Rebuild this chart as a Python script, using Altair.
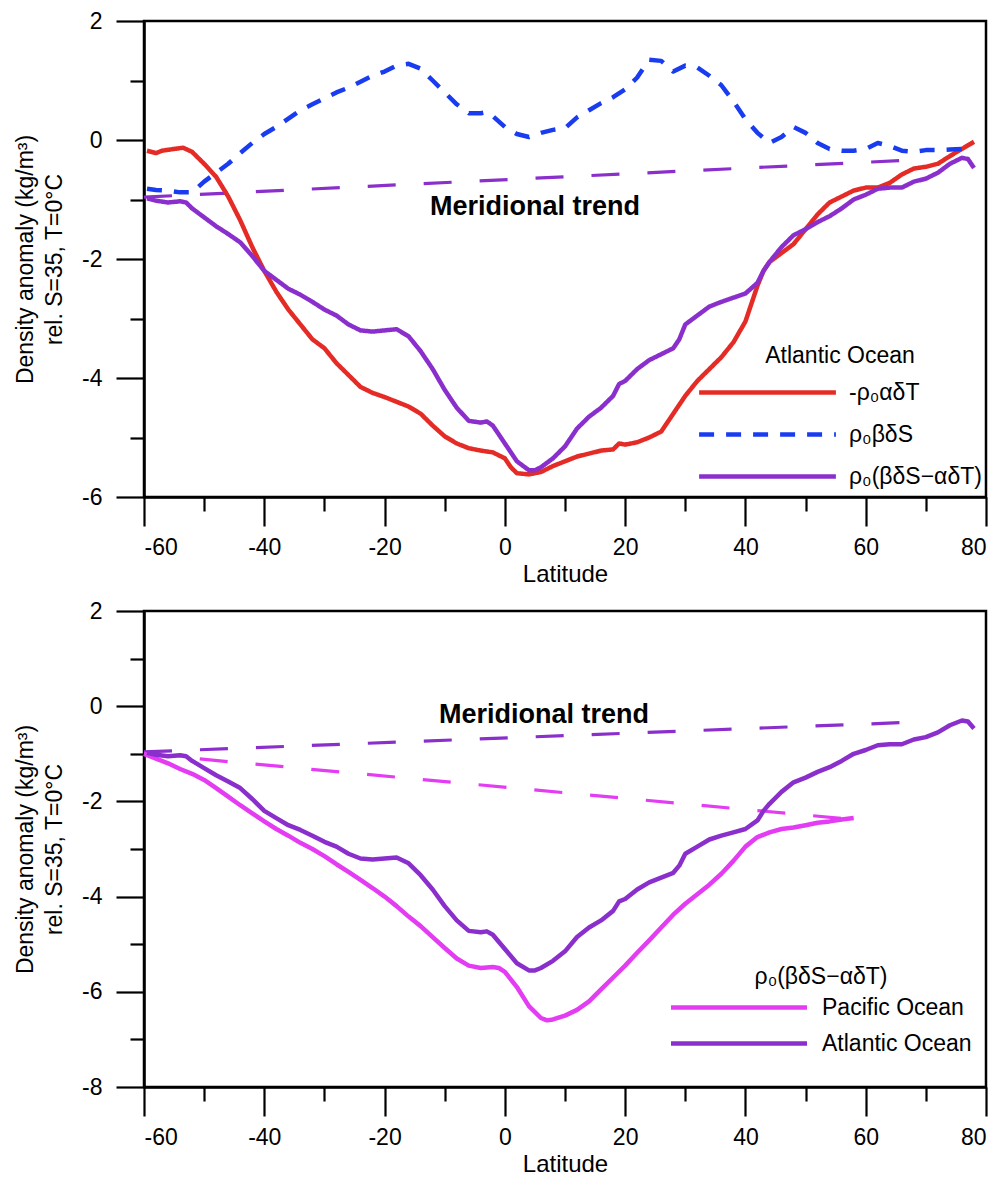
import altair as alt
import pandas as pd

# ---------------- data ----------------
# Top panel: Atlantic Ocean components
lat_temp = [-59.5, -58, -57, -55, -53.5, -52, -50, -48, -46, -44, -42, -40, -38, -36, -34, -32, -30, -28,
            -26, -24, -22, -20, -18, -16, -14, -12, -10, -8, -6, -4, -2, 0, 1, 2, 4, 6, 8, 10, 12, 14,
            16, 18, 19, 20, 22, 24, 26, 28, 30, 32, 34, 36, 38, 40, 41, 42, 43, 44, 46, 48, 50, 52, 54,
            56, 58, 60, 62, 64, 66, 68, 70, 72, 74, 76, 78]
val_temp = [-0.18, -0.22, -0.18, -0.15, -0.13, -0.2, -0.4, -0.62, -0.95, -1.35, -1.8, -2.2, -2.55, -2.85,
            -3.1, -3.35, -3.5, -3.75, -3.95, -4.15, -4.25, -4.32, -4.4, -4.48, -4.6, -4.8, -4.98, -5.1,
            -5.18, -5.22, -5.25, -5.35, -5.5, -5.6, -5.62, -5.58, -5.48, -5.4, -5.32, -5.27, -5.22, -5.2,
            -5.1, -5.12, -5.08, -5.0, -4.9, -4.6, -4.3, -4.05, -3.85, -3.65, -3.4, -3.05, -2.75, -2.45,
            -2.2, -2.05, -1.9, -1.75, -1.5, -1.25, -1.05, -0.95, -0.85, -0.8, -0.8, -0.72, -0.58, -0.48,
            -0.45, -0.4, -0.27, -0.15, -0.03]

lat_salt = [-59.5, -58, -56, -54, -52, -50, -48, -46, -44, -42, -40, -38, -36, -34, -32, -30, -28, -26,
            -24, -22, -20, -18, -16, -14, -12, -10, -8, -6, -4, -3, -2, 0, 2, 4, 6, 8, 10, 12, 14, 16,
            18, 20, 22, 24, 26, 28, 30, 32, 34, 36, 38, 40, 42, 44, 46, 48, 50, 52, 54, 56, 58, 60, 62,
            64, 66, 68, 70, 72, 74, 76, 77]
val_salt = [-0.82, -0.84, -0.85, -0.88, -0.88, -0.7, -0.55, -0.4, -0.22, -0.05, 0.1, 0.22, 0.36, 0.5,
            0.6, 0.7, 0.8, 0.88, 0.98, 1.08, 1.15, 1.25, 1.28, 1.2, 1.0, 0.8, 0.6, 0.45, 0.45, 0.47, 0.4,
            0.22, 0.1, 0.05, 0.12, 0.17, 0.2, 0.38, 0.5, 0.62, 0.72, 0.85, 1.05, 1.35, 1.33, 1.15, 1.25,
            1.22, 1.08, 0.92, 0.65, 0.35, 0.12, -0.05, 0.05, 0.22, 0.12, -0.05, -0.15, -0.18, -0.18,
            -0.15, -0.05, -0.1, -0.18, -0.2, -0.17, -0.17, -0.16, -0.15, -0.2]

# Atlantic total density anomaly (used in both panels)
lat_atl = [-59.5, -58, -56, -54, -53, -52, -50, -48, -46, -44, -42, -40, -38, -36, -34, -32, -30, -28,
           -26, -24, -22, -20, -18, -16, -14, -12, -10, -8, -6, -4, -3, -2, 0, 2, 4, 5, 6, 8, 10, 12,
           14, 16, 18, 19, 20, 22, 24, 26, 28, 29, 30, 32, 34, 36, 38, 40, 42, 43, 44, 46, 48, 50, 52,
           54, 56, 58, 60, 62, 64, 66, 68, 70, 72, 74, 76, 77, 78]
val_atl = [-0.98, -1.02, -1.05, -1.03, -1.05, -1.15, -1.3, -1.45, -1.58, -1.72, -1.95, -2.2, -2.35,
           -2.5, -2.6, -2.72, -2.85, -2.95, -3.1, -3.2, -3.22, -3.2, -3.18, -3.3, -3.55, -3.85, -4.2,
           -4.5, -4.72, -4.75, -4.73, -4.8, -5.1, -5.4, -5.55, -5.55, -5.5, -5.35, -5.15, -4.85, -4.65,
           -4.5, -4.3, -4.1, -4.05, -3.85, -3.7, -3.6, -3.5, -3.35, -3.1, -2.95, -2.8, -2.72, -2.65,
           -2.58, -2.4, -2.2, -2.05, -1.8, -1.6, -1.5, -1.38, -1.28, -1.15, -1.0, -0.92, -0.82, -0.8,
           -0.8, -0.7, -0.65, -0.55, -0.4, -0.3, -0.32, -0.47]

# Bottom panel: Pacific total density anomaly
lat_pac = [-60, -58, -56, -54, -52, -50, -48, -46, -44, -42, -40, -38, -36, -34, -32, -30, -28, -26,
           -24, -22, -20, -18, -16, -14, -12, -10, -8, -6, -4, -2, -1, 0, 2, 4, 6, 7, 8, 10, 12, 14, 16,
           18, 20, 22, 24, 26, 28, 30, 32, 34, 36, 38, 40, 42, 44, 46, 48, 50, 52, 54, 56, 58]
val_pac = [-1.0, -1.1, -1.2, -1.32, -1.42, -1.55, -1.72, -1.9, -2.08, -2.25, -2.42, -2.58, -2.72,
           -2.87, -3.0, -3.15, -3.32, -3.48, -3.65, -3.82, -4.0, -4.2, -4.42, -4.62, -4.85, -5.08, -5.3,
           -5.45, -5.5, -5.48, -5.5, -5.58, -5.9, -6.3, -6.55, -6.6, -6.58, -6.5, -6.38, -6.2, -5.95,
           -5.7, -5.45, -5.18, -4.92, -4.65, -4.38, -4.15, -3.95, -3.75, -3.52, -3.25, -2.95, -2.75,
           -2.65, -2.58, -2.55, -2.5, -2.45, -2.42, -2.38, -2.35]

# Meridional trends (straight dashed lines)
trend_atl_lat = [-60, 69]
trend_atl_val = [-0.96, -0.33]
trend_pac_lat = [-60, 58]
trend_pac_val = [-1.0, -2.38]

# Annotation
note_text = ["Meridional trend"]
note_top_lat = [5]
note_top_val = [-1.13]
note_bot_lat = [6.5]
note_bot_val = [-0.18]

# Series names / styles
series_top = ["-ρ₀αδT", "ρ₀βδS", "ρ₀(βδS−αδT)"]
colors_top = ["#e52b25", "#1a3cf0", "#8a2fcc"]
dashes_top = [[1, 0], [15, 12], [1, 0]]
series_bot = ["Pacific Ocean", "Atlantic Ocean"]
colors_bot = ["#e33cf3", "#8a2fcc"]

x_ticks = list(range(-60, 81, 10))
y_ticks_top = list(range(-6, 3))
y_ticks_bot = list(range(-8, 3))

FONT = "Liberation Sans"
PURPLE = "#8a2fcc"
MAGENTA = "#e33cf3"
W, H = 842, 476

# ---------------- frames ----------------
top_df = pd.concat([
    pd.DataFrame({"lat": lat_temp, "val": val_temp, "series": series_top[0]}),
    pd.DataFrame({"lat": lat_salt, "val": val_salt, "series": series_top[1]}),
    pd.DataFrame({"lat": lat_atl, "val": val_atl, "series": series_top[2]}),
], ignore_index=True)

bot_df = pd.concat([
    pd.DataFrame({"lat": lat_pac, "val": val_pac, "series": series_bot[0]}),
    pd.DataFrame({"lat": lat_atl, "val": val_atl, "series": series_bot[1]}),
], ignore_index=True)

trend_top_df = pd.DataFrame({"lat": trend_atl_lat, "val": trend_atl_val})
trend_atl_df = pd.DataFrame({"lat": trend_atl_lat, "val": trend_atl_val})
trend_pac_df = pd.DataFrame({"lat": trend_pac_lat, "val": trend_pac_val})
note_top_df = pd.DataFrame({"lat": note_top_lat, "val": note_top_val, "t": note_text})
note_bot_df = pd.DataFrame({"lat": note_bot_lat, "val": note_bot_val, "t": note_text})

Y_TITLE = ["Density anomaly (kg/m³)", "rel. S=35, T=0°C"]


def x_enc():
    return alt.X(
        "lat:Q",
        scale=alt.Scale(domain=[-60, 80], nice=False, zero=False),
        title="Latitude",
        axis=alt.Axis(
            values=x_ticks,
            tickSize={"condition": {"test": "datum.value % 20 === 0", "value": 29}, "value": 14},
            labelExpr="datum.value % 20 === 0 ? '' + datum.value : ''",
            labelOverlap=False,
            labelPadding=10,
            labelFontSize=23,
            titleFontSize=24,
            titlePadding=3,
        ),
    )


def y_enc(ticks, domain):
    return alt.Y(
        "val:Q",
        scale=alt.Scale(domain=domain, nice=False, zero=False),
        title=Y_TITLE,
        axis=alt.Axis(
            values=ticks,
            tickSize={"condition": {"test": "datum.value % 2 === 0", "value": 28}, "value": 14},
            labelExpr="datum.value % 2 === 0 ? '' + datum.value : ''",
            labelOverlap=False,
            labelPadding=14,
            labelFontSize=23,
            titleFontSize=23,
            titleLineHeight=29,
            titlePadding=15,
        ),
    )


# ---------------- top panel ----------------
legend_top = alt.Legend(
    orient="none", legendX=555, legendY=324,
    title="Atlantic Ocean", titleFontSize=23, titleFontWeight="normal", titleAnchor="middle",
    titlePadding=3, titleColor="black",
    labelFontSize=23, labelColor="black", labelLimit=400,
    symbolType="M-3.6,0H3.6", symbolSize=1444, symbolStrokeWidth=4.5,
    symbolOffset=47, labelOffset=60, rowPadding=8, padding=0,
)

top_lines = alt.Chart(top_df).mark_line(strokeWidth=4.5, strokeJoin="round").encode(
    x=x_enc(),
    y=y_enc(y_ticks_top, [-6, 2]),
    color=alt.Color("series:N", scale=alt.Scale(domain=series_top, range=colors_top), legend=legend_top),
    strokeDash=alt.StrokeDash("series:N", scale=alt.Scale(domain=series_top, range=dashes_top), legend=legend_top),
)

top_trend = alt.Chart(trend_top_df).mark_line(strokeWidth=3.2, strokeDash=[28, 28], color=PURPLE).encode(
    x=x_enc(), y=y_enc(y_ticks_top, [-6, 2])
)

top_note = alt.Chart(note_top_df).mark_text(fontSize=27, fontWeight="bold", font=FONT, color="black").encode(
    x=x_enc(), y=y_enc(y_ticks_top, [-6, 2]), text="t:N"
)

top = alt.layer(top_trend, top_lines, top_note).properties(width=W, height=H)

# ---------------- bottom panel ----------------
legend_bot = alt.Legend(
    orient="none", legendX=527, legendY=355,
    title="ρ₀(βδS−αδT)", titleFontSize=23, titleFontWeight="normal", titleAnchor="middle",
    titlePadding=1, titleColor="black",
    labelFontSize=23, labelColor="black", labelLimit=400,
    symbolType="M-4.46,0H4.46", symbolSize=930, symbolStrokeWidth=4.5,
    symbolOffset=50.5, labelOffset=65.5, rowPadding=6, padding=0,
)

bot_lines = alt.Chart(bot_df).mark_line(strokeWidth=4.5, strokeJoin="round").encode(
    x=x_enc(),
    y=y_enc(y_ticks_bot, [-8, 2]),
    color=alt.Color("series:N", scale=alt.Scale(domain=series_bot, range=colors_bot), legend=legend_bot),
)

bot_trend_atl = alt.Chart(trend_atl_df).mark_line(strokeWidth=3.2, strokeDash=[28, 28], color=PURPLE).encode(
    x=x_enc(), y=y_enc(y_ticks_bot, [-8, 2])
)
bot_trend_pac = alt.Chart(trend_pac_df).mark_line(strokeWidth=3.2, strokeDash=[28, 28], color=MAGENTA).encode(
    x=x_enc(), y=y_enc(y_ticks_bot, [-8, 2])
)
bot_note = alt.Chart(note_bot_df).mark_text(fontSize=27, fontWeight="bold", font=FONT, color="black").encode(
    x=x_enc(), y=y_enc(y_ticks_bot, [-8, 2]), text="t:N"
)

bottom = alt.layer(bot_trend_atl, bot_trend_pac, bot_lines, bot_note).properties(width=W, height=H)

chart = (
    alt.vconcat(top, bottom, spacing=10)
    .resolve_scale(color="independent", strokeDash="independent")
    .properties(padding={"left": 5, "top": 0, "right": 0, "bottom": 0})
    .configure(font=FONT)
    .configure_view(stroke="black", strokeWidth=2.5)
    .configure_axis(
        domainColor="black", domainWidth=2.5, tickColor="black", tickWidth=2.2,
        labelColor="black", titleColor="black", titleFontWeight="normal", grid=False,
        labelFont=FONT, titleFont=FONT,
    )
    .configure_legend(labelFont=FONT, titleFont=FONT)
)

chart.save("out.html", embed_options={"renderer": "svg", "actions": False})
